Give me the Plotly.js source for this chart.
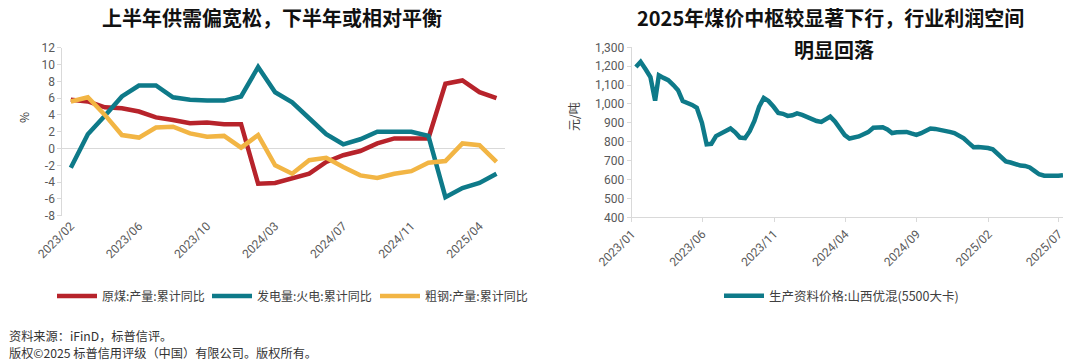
<!DOCTYPE html>
<html>
<head>
<meta charset="utf-8">
<script src="https://cdn.plot.ly/plotly-3.0.1.min.js"></script>
<style>
html,body{margin:0;padding:0;background:#fff;}
#chart{width:1080px;height:362px;}
</style>
</head>
<body>
<div id="chart"></div>
<script>
const W = 1080, H = 362;

// ---------- Left chart data (cumulative YoY, %) ----------
const monthCats = ['2023/02','2023/03','2023/04','2023/05','2023/06','2023/07','2023/08','2023/09','2023/10','2023/11','2023/12',
  '2024/02','2024/03','2024/04','2024/05','2024/06','2024/07','2024/08','2024/09','2024/10','2024/11','2024/12',
  '2025/02','2025/03','2025/04','2025/05'];
const rawCoal = [5.8,5.6,4.9,4.8,4.4,3.7,3.4,3.0,3.1,2.9,2.9,-4.2,-4.1,-3.6,-3.0,-1.6,-0.8,-0.3,0.6,1.2,1.2,1.2,7.7,8.1,6.7,6.0];
const thermalPower = [-2.3,1.7,3.9,6.2,7.5,7.5,6.1,5.8,5.7,5.7,6.2,9.7,6.7,5.5,3.6,1.7,0.5,1.1,2.0,2.0,2.0,1.5,-5.8,-4.7,-4.1,-3.0];
const crudeSteel = [5.6,6.1,4.0,1.6,1.3,2.5,2.6,1.8,1.4,1.5,0.1,1.6,-2.0,-3.0,-1.4,-1.1,-2.2,-3.2,-3.5,-3.0,-2.7,-1.7,-1.5,0.6,0.4,-1.6];
const leftTickLabels = ['2023/02','2023/06','2023/10','2024/03','2024/07','2024/11','2025/04'];
const leftYTicks = [12,10,8,6,4,2,0,-2,-4,-6,-8];

// ---------- Right chart data (元/吨) ----------
const priceDates = [
  '2023-01-10','2023-01-20','2023-01-31','2023-02-10','2023-02-20','2023-02-28','2023-03-10','2023-03-20','2023-03-31',
  '2023-04-10','2023-04-20','2023-04-30','2023-05-10','2023-05-20','2023-05-31','2023-06-10','2023-06-20','2023-06-30',
  '2023-07-10','2023-07-20','2023-07-31','2023-08-10','2023-08-20','2023-08-31','2023-09-10','2023-09-20','2023-09-30',
  '2023-10-10','2023-10-20','2023-10-31','2023-11-10','2023-11-20','2023-11-30','2023-12-10','2023-12-20','2023-12-31',
  '2024-01-10','2024-01-20','2024-01-31','2024-02-10','2024-02-20','2024-02-29','2024-03-10','2024-03-20','2024-03-31',
  '2024-04-10','2024-04-20','2024-04-30','2024-05-10','2024-05-20','2024-05-31','2024-06-10','2024-06-20','2024-06-30',
  '2024-07-10','2024-07-20','2024-07-31','2024-08-10','2024-08-20','2024-08-31','2024-09-10','2024-09-20','2024-09-30',
  '2024-10-10','2024-10-20','2024-10-31','2024-11-10','2024-11-20','2024-11-30','2024-12-10','2024-12-20','2024-12-31',
  '2025-01-10','2025-01-20','2025-01-31','2025-02-10','2025-02-20','2025-02-28','2025-03-10','2025-03-20','2025-03-31',
  '2025-04-10','2025-04-20','2025-04-30','2025-05-10','2025-05-20','2025-05-31','2025-06-10','2025-06-20','2025-06-30',
  '2025-07-10'];
const priceValues = [
  1196,1223,1182,1142,1018,1152,1138,1126,1100,1073,1015,1008,995,980,900,786,789,830,
  845,860,870,850,822,819,856,910,985,1032,1016,985,953,948,937,940,950,942,
  930,917,910,905,922,933,907,873,835,817,820,828,840,851,874,878,877,865,
  846,850,853,852,844,836,845,858,870,868,861,857,852,846,834,818,795,771,
  772,771,767,760,738,718,696,690,680,674,672,664,646,628,620,619,619,620,623];
const rightTickDates = ['2023-01-01','2023-06-01','2023-11-01','2024-04-01','2024-09-01','2025-02-01','2025-07-01'];
const rightTickLabels = ['2023/01','2023/06','2023/11','2024/04','2024/09','2025/02','2025/07'];
const rightYTicks = [400,500,600,700,800,900,1000,1100,1200,1300];

// ---------- styling ----------
const RED = '#B7232B', TEAL = '#0E7A89', YELLOW = '#F2B544';
const LINEW = 4.5;
const CJK = '"Noto Sans CJK SC", "Noto Sans", sans-serif';
const NUMF = 'Roboto, "Noto Sans", sans-serif';
const tickFont = {family: NUMF, size: 12, color: '#595959'};
const AXC = '#d9d9d9';
const px = x => x / W;
const py = y => 1 - y / H;

const traces = [
  {x: monthCats, y: rawCoal, name: '原煤:产量:累计同比', type: 'scatter', mode: 'lines',
   line: {color: RED, width: LINEW}, xaxis: 'x', yaxis: 'y', legend: 'legend'},
  {x: monthCats, y: thermalPower, name: '发电量:火电:累计同比', type: 'scatter', mode: 'lines',
   line: {color: TEAL, width: LINEW}, xaxis: 'x', yaxis: 'y', legend: 'legend3'},
  {x: monthCats, y: crudeSteel, name: '粗钢:产量:累计同比', type: 'scatter', mode: 'lines',
   line: {color: YELLOW, width: LINEW}, xaxis: 'x', yaxis: 'y', legend: 'legend4'},
  {x: priceDates, y: priceValues, name: '生产资料价格:山西优混(5500大卡)', type: 'scatter', mode: 'lines',
   line: {color: TEAL, width: LINEW}, xaxis: 'x2', yaxis: 'y2', legend: 'legend2'}
];

const catGaps = monthCats.slice(1).map((c, i) => i + 0.5);

function legendAt(xPix, size) {
  return {
    orientation: 'h', x: px(xPix), xanchor: 'left', y: py(296), yanchor: 'middle',
    font: {family: CJK, size: size, color: '#404040'}, itemwidth: 40, bgcolor: 'rgba(0,0,0,0)'
  };
}

const layout = {
  width: W, height: H,
  margin: {l: 0, r: 0, t: 0, b: 0},
  paper_bgcolor: '#fff', plot_bgcolor: 'rgba(0,0,0,0)',
  showlegend: true,
  xaxis: {
    domain: [px(62.3), px(505)], anchor: 'y', type: 'category', range: [-0.5, monthCats.length - 0.5],
    tickmode: 'array', tickvals: leftTickLabels, ticktext: leftTickLabels, tickangle: -45,
    ticks: '', showline: false, showgrid: false, zeroline: false, tickfont: tickFont
  },
  xaxis3: {
    overlaying: 'x', anchor: 'free', position: py(148.3), domain: [px(62.3), px(505)],
    type: 'linear', range: [-0.5, monthCats.length - 0.5], tickmode: 'array', tickvals: catGaps,
    ticks: 'outside', ticklen: 4, tickcolor: AXC, tickwidth: 1, showticklabels: false,
    showline: false, showgrid: false, zeroline: false
  },
  yaxis: {
    domain: [py(215.7), py(47.7)], anchor: 'x', range: [-8, 12],
    tickmode: 'array', tickvals: leftYTicks, ticktext: leftYTicks.map(String),
    showline: true, linecolor: AXC, linewidth: 1, ticks: 'outside', ticklen: 4, tickcolor: AXC,
    showgrid: false, zeroline: true, zerolinecolor: AXC, zerolinewidth: 1, tickfont: tickFont
  },
  xaxis2: {
    domain: [px(631.7), px(1063)], anchor: 'y2', type: 'date', range: ['2023-01-01', '2025-07-10'],
    tickmode: 'array', tickvals: rightTickDates, ticktext: rightTickLabels, tickangle: -45,
    ticks: 'outside', ticklen: 4, tickcolor: AXC, showline: true, linecolor: AXC, linewidth: 1,
    showgrid: false, zeroline: false, tickfont: tickFont
  },
  yaxis2: {
    domain: [py(217.3), py(47.3)], anchor: 'x2', range: [400, 1300],
    tickmode: 'array', tickvals: rightYTicks, tickformat: ',',
    showline: true, linecolor: AXC, linewidth: 1, ticks: 'outside', ticklen: 4, tickcolor: AXC,
    showgrid: false, zeroline: false, tickfont: tickFont
  },
  legend: legendAt(52, 12),
  legend3: legendAt(207, 12),
  legend4: legendAt(375, 12),
  legend2: legendAt(719, 12.5),
  annotations: [
    {text: '上半年供需偏宽松，下半年或相对平衡', xref: 'paper', yref: 'paper', x: px(272), y: py(18),
     xanchor: 'center', yanchor: 'middle', showarrow: false,
     font: {family: CJK, size: 20, color: '#111', weight: 'bold'}},
    {text: '2025年煤价中枢较显著下行，行业利润空间', xref: 'paper', yref: 'paper', x: px(830), y: py(18),
     xanchor: 'center', yanchor: 'middle', showarrow: false,
     font: {family: CJK, size: 20, color: '#111', weight: 'bold'}},
    {text: '明显回落', xref: 'paper', yref: 'paper', x: px(834), y: py(50),
     xanchor: 'center', yanchor: 'middle', showarrow: false,
     font: {family: CJK, size: 20, color: '#111', weight: 'bold'}},
    {text: '%', xref: 'paper', yref: 'paper', x: px(24), y: py(118), textangle: -90,
     xanchor: 'center', yanchor: 'middle', showarrow: false,
     font: {family: CJK, size: 12, color: '#404040'}},
    {text: '元/吨', xref: 'paper', yref: 'paper', x: px(573), y: py(117), textangle: -90,
     xanchor: 'center', yanchor: 'middle', showarrow: false,
     font: {family: CJK, size: 12, color: '#404040'}},
    {text: '资料来源：iFinD，标普信评。', xref: 'paper', yref: 'paper', x: px(7), y: py(336),
     xanchor: 'left', yanchor: 'middle', showarrow: false,
     font: {family: CJK, size: 12.2, color: '#333'}},
    {text: '版权©2025 标普信用评级（中国）有限公司。版权所有。', xref: 'paper', yref: 'paper', x: px(7), y: py(353),
     xanchor: 'left', yanchor: 'middle', showarrow: false,
     font: {family: CJK, size: 12.2, color: '#333'}}
  ]
};

Plotly.newPlot('chart', traces, layout, {staticPlot: true, displayModeBar: false});
</script>
</body>
</html>
